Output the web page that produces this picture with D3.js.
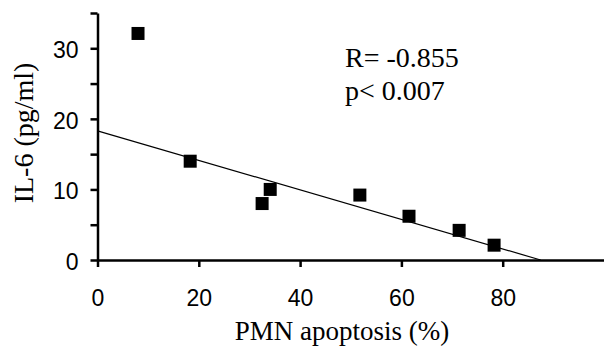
<!DOCTYPE html>
<html>
<head>
<meta charset="utf-8">
<script src="https://cdn.jsdelivr.net/npm/d3@7"></script>
<style>
  html, body { margin: 0; padding: 0; background: #fff; }
  svg { display: block; }
</style>
</head>
<body>
<div id="chart"></div>
<script>
// PMN apoptosis (%) vs IL-6 (pg/ml)
const apoptosis = [8.0, 18.3, 34.1, 32.5, 51.8, 61.5, 71.4, 78.3];
const il6 = [32.1, 14.0, 10.0, 8.0, 9.2, 6.2, 4.2, 2.1];
// regression line as drawn in the figure (start / end)
const fitX = [0, 87.5];
const fitY = [18.3, 0];
const xTicks = [0, 20, 40, 60, 80];
const yTicks = [0, 5, 10, 15, 20, 25, 30, 35];
const yLabels = [0, 10, 20, 30];
const stats = ["R= -0.855", "p< 0.007"];

const width = 604, height = 348;
const mLeft = 97.5, mRight = 604, mTop = 13, mBottom = 260;

const x = d3.scaleLinear().domain([0, 100]).range([mLeft, mRight]);
const y = d3.scaleLinear().domain([0, 35]).range([mBottom, mTop]);

const svg = d3.select("#chart").append("svg")
    .attr("width", width)
    .attr("height", height);

// y axis
const yAxis = svg.append("g")
    .attr("transform", `translate(${mLeft},0)`)
    .call(d3.axisLeft(y).tickValues(yTicks).tickSize(7).tickSizeOuter(0)
      .tickFormat(d => yLabels.includes(d) ? d : ""));
yAxis.select(".domain").attr("stroke-width", 2.5);
yAxis.selectAll(".tick line").attr("stroke-width", 2.5);
yAxis.selectAll(".tick text")
    .attr("x", -19)
    .attr("y", 2)
    .style("font", "23px 'Liberation Sans', Arial, sans-serif")
    .attr("fill", "#000");

// x axis
const xAxis = svg.append("g")
    .attr("transform", `translate(0,${mBottom})`)
    .call(d3.axisBottom(x).tickValues(xTicks).tickSize(7).tickSizeOuter(0));
xAxis.select(".domain").attr("stroke-width", 2.5);
xAxis.selectAll(".tick line").attr("stroke-width", 2.5);
xAxis.selectAll(".tick text")
    .attr("y", 30)
    .style("font", "23px 'Liberation Sans', Arial, sans-serif")
    .attr("fill", "#000");

// regression line
svg.append("path")
    .datum(fitX.map((d, i) => [d, fitY[i]]))
    .attr("fill", "none")
    .attr("stroke", "#000")
    .attr("stroke-width", 1.2)
    .attr("d", d3.line().x(d => x(d[0])).y(d => y(d[1])));

// points
const sq = 13;
svg.append("g")
  .selectAll("rect")
  .data(apoptosis.map((d, i) => ({ x: d, y: il6[i] })))
  .join("rect")
    .attr("x", d => x(d.x) - sq / 2)
    .attr("y", d => y(d.y) - sq / 2)
    .attr("width", sq)
    .attr("height", sq)
    .attr("fill", "#000");

// stats text
svg.append("g")
    .style("font", "28px 'Liberation Serif', 'Times New Roman', serif")
  .selectAll("text")
  .data(stats)
  .join("text")
    .attr("x", 345)
    .attr("y", (d, i) => 67 + i * 33)
    .text(d => d);

// axis titles
svg.append("text")
    .attr("x", 342)
    .attr("y", 340)
    .attr("text-anchor", "middle")
    .style("font", "27px 'Liberation Serif', 'Times New Roman', serif")
    .text("PMN apoptosis (%)");

svg.append("text")
    .attr("transform", `translate(33,${y(18)}) rotate(-90)`)
    .attr("text-anchor", "middle")
    .style("font", "28px 'Liberation Serif', 'Times New Roman', serif")
    .text("IL-6 (pg/ml)");
</script>
</body>
</html>
